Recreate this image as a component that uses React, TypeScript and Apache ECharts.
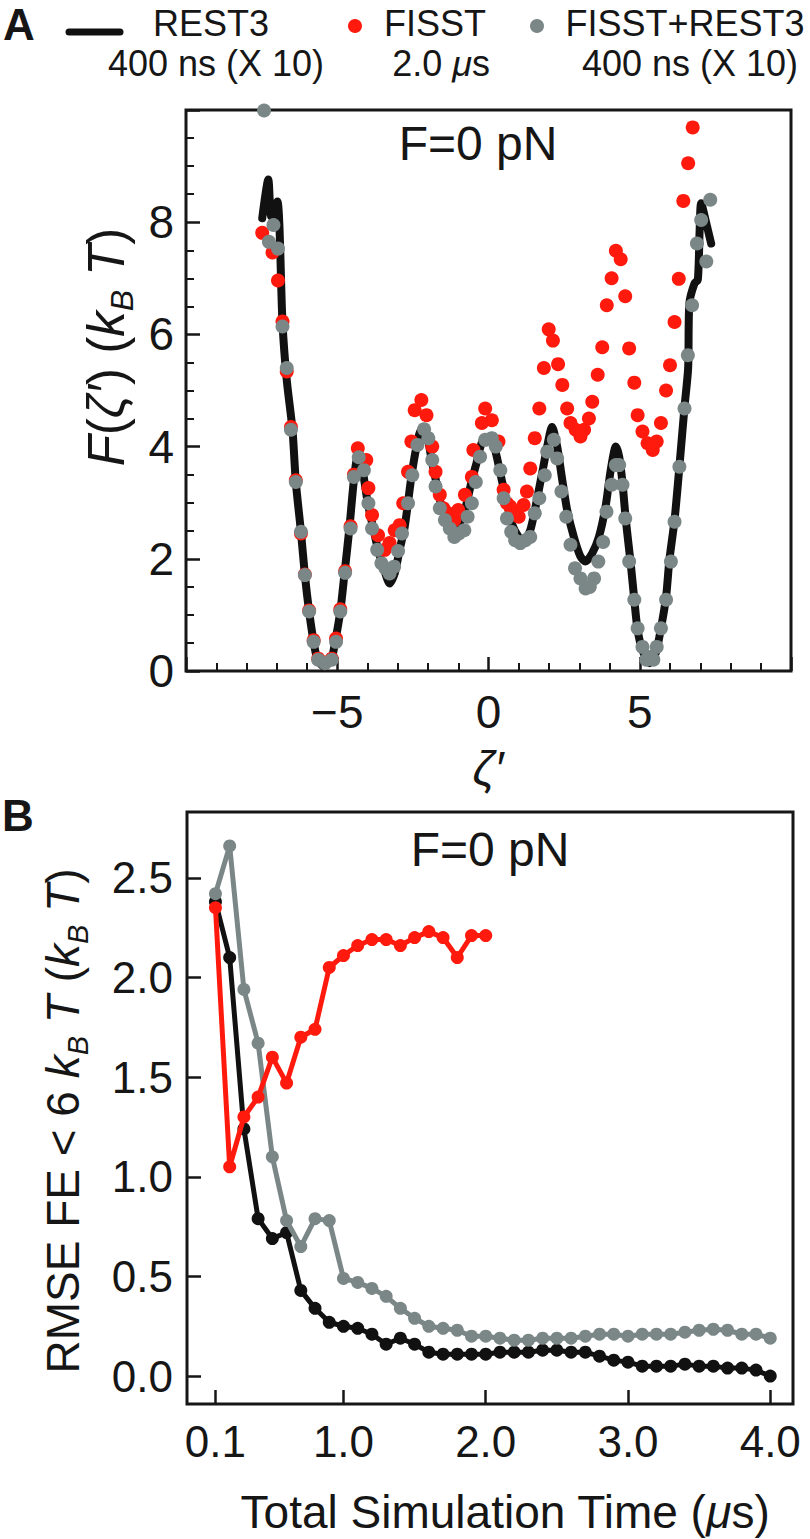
import React, { useEffect, useRef } from "react";
import * as echarts from "echarts";

// ---------- Panel A : free energy profile ----------
const restA: number[][] = [
  [-7.48, 8.07], [-7.28, 8.76], [-7.18, 8.1], [-6.98, 8.37], [-6.81, 6.2], [-6.67, 5.19],
  [-6.48, 4.3], [-6.37, 3.37], [-6.2, 2.48], [-6.07, 1.71], [-5.93, 1.06], [-5.78, 0.52],
  [-5.65, 0.2], [-5.43, 0.08], [-5.2, 0.2], [-5.07, 0.52], [-4.9, 1.06], [-4.76, 1.74],
  [-4.6, 2.54], [-4.45, 3.4], [-4.32, 3.82], [-4.21, 3.73], [-3.99, 2.99], [-3.82, 2.57],
  [-3.65, 2.16], [-3.43, 1.77], [-3.27, 1.56], [-3.1, 1.74], [-2.94, 2.16], [-2.77, 2.57],
  [-2.55, 3.46], [-2.38, 4.0], [-2.22, 4.3], [-2.05, 4.24], [-1.88, 3.76], [-1.72, 3.35],
  [-1.55, 2.93], [-1.33, 2.69], [-1.16, 2.45], [-1.0, 2.57], [-0.78, 2.87], [-0.55, 3.4],
  [-0.4, 3.7], [-0.2, 4.1], [0.05, 4.18], [0.22, 3.94], [0.44, 3.4], [0.61, 2.99],
  [0.77, 2.63], [1.0, 2.39], [1.16, 2.33], [1.38, 2.51], [1.6, 3.05], [1.77, 3.52],
  [1.94, 4.0], [2.1, 4.35], [2.27, 4.0], [2.44, 3.4], [2.6, 2.87], [2.82, 2.39],
  [3.04, 2.04], [3.21, 1.95], [3.43, 2.1], [3.65, 2.39], [3.87, 2.93], [4.04, 3.58],
  [4.21, 4.0], [4.32, 3.82], [4.43, 3.35], [4.54, 2.69], [4.7, 1.92], [4.82, 1.27],
  [4.93, 0.73], [5.09, 0.37], [5.32, 0.14], [5.53, 0.32], [5.7, 0.76], [5.87, 1.32],
  [5.98, 1.98], [6.15, 2.69], [6.31, 3.64], [6.48, 4.71], [6.6, 5.4], [6.64, 6.55],
  [6.81, 6.91], [6.92, 6.97], [6.98, 7.86], [7.03, 8.34], [7.2, 7.98], [7.36, 7.62],
];

const fisstA: number[][] = [
  [-7.48, 7.81], [-7.14, 7.46], [-6.96, 6.96], [-6.81, 6.23], [-6.67, 5.34], [-6.53, 4.35],
  [-6.37, 3.4], [-6.2, 2.45], [-6.07, 1.72], [-5.93, 1.08], [-5.78, 0.55], [-5.63, 0.22],
  [-5.41, 0.15], [-5.18, 0.22], [-5.04, 0.58], [-4.9, 1.1], [-4.74, 1.78], [-4.56, 2.58],
  [-4.45, 3.5], [-4.32, 3.97], [-4.04, 3.76], [-3.97, 3.26], [-3.85, 2.78], [-3.65, 2.42],
  [-3.43, 2.16], [-3.27, 2.28], [-3.1, 2.51], [-2.94, 2.6], [-2.82, 2.99], [-2.66, 3.55],
  [-2.55, 4.09], [-2.44, 4.65], [-2.22, 4.83], [-2.05, 4.56], [-1.86, 4.0], [-1.75, 3.55],
  [-1.61, 3.14], [-1.49, 2.9], [-1.33, 2.81], [-1.13, 2.69], [-1.0, 2.87], [-0.78, 3.14],
  [-0.55, 3.46], [-0.5, 3.94], [-0.22, 4.42], [-0.11, 4.68], [0.11, 4.47], [0.33, 4.09],
  [0.5, 3.23], [0.61, 2.99], [0.72, 2.93], [0.88, 2.81], [1.0, 2.75], [1.16, 2.96],
  [1.27, 3.2], [1.38, 3.61], [1.53, 4.15], [1.68, 4.68], [1.83, 5.4], [1.99, 6.09],
  [2.13, 5.89], [2.3, 5.47], [2.44, 5.1], [2.6, 4.68], [2.71, 4.42], [2.88, 4.3],
  [3.04, 4.18], [3.16, 4.3], [3.32, 4.5], [3.43, 4.8], [3.61, 5.28], [3.76, 5.77],
  [3.91, 6.52], [4.07, 7.0], [4.21, 7.49], [4.37, 7.34], [4.52, 6.68], [4.65, 5.75],
  [4.82, 5.14], [4.93, 4.56], [5.09, 4.27], [5.26, 4.06], [5.43, 3.94], [5.56, 4.09],
  [5.7, 4.42], [5.87, 5.0], [6.0, 5.45], [6.15, 6.22], [6.29, 6.99], [6.44, 8.38],
  [6.6, 9.05], [6.75, 9.69],
];

const comboA: number[][] = [
  [-7.42, 9.99], [-7.26, 7.65], [-7.11, 7.95], [-6.96, 7.53], [-6.81, 6.14], [-6.67, 5.4],
  [-6.53, 4.3], [-6.37, 3.37], [-6.2, 2.48], [-6.07, 1.71], [-5.93, 1.06], [-5.78, 0.52],
  [-5.63, 0.2], [-5.41, 0.14], [-5.18, 0.2], [-5.04, 0.52], [-4.9, 1.06], [-4.74, 1.75],
  [-4.56, 2.54], [-4.45, 3.46], [-4.29, 3.81], [-4.12, 3.58], [-3.97, 2.99], [-3.85, 2.54],
  [-3.68, 2.16], [-3.54, 1.92], [-3.41, 1.83], [-3.27, 1.74], [-3.12, 1.86], [-2.99, 2.14],
  [-2.86, 2.45], [-2.66, 2.99], [-2.52, 3.49], [-2.35, 4.03], [-2.13, 4.31], [-1.99, 4.15],
  [-1.86, 3.76], [-1.75, 3.29], [-1.61, 2.9], [-1.44, 2.69], [-1.28, 2.54], [-1.13, 2.39],
  [-0.98, 2.45], [-0.8, 2.51], [-0.69, 2.75], [-0.55, 2.99], [-0.42, 3.37], [-0.28, 3.82],
  [-0.11, 4.12], [0.11, 4.15], [0.24, 4.0], [0.39, 3.58], [0.5, 3.08], [0.61, 2.72],
  [0.75, 2.48], [0.88, 2.33], [1.05, 2.28], [1.22, 2.33], [1.38, 2.39], [1.53, 2.81],
  [1.68, 3.08], [1.86, 3.49], [1.94, 3.91], [2.16, 4.12], [2.27, 3.79], [2.41, 3.2],
  [2.57, 2.75], [2.71, 2.25], [2.86, 1.83], [3.04, 1.65], [3.21, 1.47], [3.35, 1.5],
  [3.49, 1.65], [3.63, 1.95], [3.79, 2.3], [3.9, 2.84], [4.07, 3.32], [4.21, 3.67],
  [4.32, 3.67], [4.43, 3.32], [4.52, 2.72], [4.65, 1.95], [4.82, 1.27], [4.93, 0.76],
  [5.09, 0.43], [5.22, 0.2], [5.32, 0.25], [5.45, 0.2], [5.56, 0.43], [5.7, 0.76],
  [5.87, 1.27], [6.03, 1.95], [6.15, 2.66], [6.31, 3.64], [6.48, 4.68], [6.59, 5.63],
  [6.73, 6.52], [6.89, 7.62], [7.03, 8.04], [7.2, 7.3], [7.33, 8.4],
];

// ---------- Panel B : RMSE vs total simulation time ----------
const timeRest = [
  0.1, 0.2, 0.3, 0.4, 0.5, 0.6, 0.7, 0.8, 0.9, 1.0, 1.1, 1.2, 1.3, 1.4, 1.5, 1.6, 1.7, 1.8, 1.9, 2.0,
  2.1, 2.2, 2.3, 2.4, 2.5, 2.6, 2.7, 2.8, 2.9, 3.0, 3.1, 3.2, 3.3, 3.4, 3.5, 3.6, 3.7, 3.8, 3.9, 4.0,
];
const rmseRest = [
  2.38, 2.10, 1.24, 0.79, 0.69, 0.72, 0.43, 0.34, 0.27, 0.25, 0.24, 0.21, 0.16, 0.19, 0.16, 0.12, 0.11, 0.11, 0.11, 0.11,
  0.12, 0.12, 0.12, 0.13, 0.13, 0.12, 0.12, 0.10, 0.08, 0.07, 0.05, 0.05, 0.05, 0.06, 0.05, 0.05, 0.04, 0.04, 0.03, 0.0,
];
const rmseCombo = [
  2.42, 2.66, 1.94, 1.67, 1.10, 0.78, 0.65, 0.79, 0.78, 0.49, 0.47, 0.44, 0.40, 0.34, 0.29, 0.25, 0.24, 0.23, 0.20, 0.20,
  0.19, 0.18, 0.18, 0.19, 0.19, 0.19, 0.20, 0.21, 0.21, 0.20, 0.21, 0.21, 0.21, 0.22, 0.23, 0.235, 0.23, 0.21, 0.21, 0.19,
];
const timeFisst = [
  0.1, 0.2, 0.3, 0.4, 0.5, 0.6, 0.7, 0.8, 0.9, 1.0, 1.1, 1.2, 1.3, 1.4, 1.5, 1.6, 1.7, 1.8, 1.9, 2.0,
];
const rmseFisst = [
  2.35, 1.05, 1.30, 1.40, 1.60, 1.47, 1.70, 1.74, 2.05, 2.11, 2.16, 2.19, 2.19, 2.16, 2.20, 2.23, 2.20, 2.10, 2.21, 2.21,
];

const xTicksB = [0.1, 1.0, 2.0, 3.0, 4.0];
const yTicksB = [0.0, 0.5, 1.0, 1.5, 2.0, 2.5];

const FF = "'Liberation Sans', Arial, Helvetica, sans-serif";
const INK = "#161616";
const RED = "#ff1a0d";
const GREY = "#7b8787";
const BLACK = "#111111";

const zip = (a: number[], b: number[]) => a.map((v, i) => [v, b[i]]);

function richStyles(fs: number) {
  const lh = fs + 12;
  return {
    n: { fontSize: fs, fontFamily: FF, fill: INK, lineHeight: lh },
    i: { fontSize: fs, fontFamily: FF, fontStyle: "italic", fill: INK, lineHeight: lh },
    s: { fontSize: Math.round(fs * 0.62), fontFamily: FF, fontStyle: "italic", fill: INK, verticalAlign: "bottom" },
  };
}

const center = { align: "center", verticalAlign: "middle", textAlign: "center", textVerticalAlign: "middle" };

export default function App() {
  const ref = useRef<HTMLDivElement>(null);
  useEffect(() => {
    document.body.style.margin = "0";
    const chart = echarts.init(ref.current!, null, { renderer: "svg" });
    const tickStyle = { color: INK, width: 2.5 };
    const option: any = {
      animation: false,
      backgroundColor: "#ffffff",
      grid: [
        { left: 186, top: 110, width: 605, height: 561, show: true, borderColor: INK, borderWidth: 3, backgroundColor: "transparent" },
        { left: 187, top: 812, width: 606, height: 592, show: true, borderColor: INK, borderWidth: 3, backgroundColor: "transparent" },
      ],
      xAxis: [
        {
          type: "value", gridIndex: 0, min: -10, max: 10, interval: 5, position: "bottom",
          axisLine: { show: false, onZero: false },
          axisTick: { show: true, inside: true, length: 14, lineStyle: tickStyle },
          minorTick: { show: true, splitNumber: 5, length: 8, lineStyle: { color: INK, width: 2 } },
          splitLine: { show: false }, minorSplitLine: { show: false },
          axisLabel: {
            showMinLabel: false, showMaxLabel: false, margin: 18, fontSize: 46, fontFamily: FF, color: INK,
            formatter: (v: number) => (v < 0 ? "\u2212" + Math.abs(v) : String(v)),
          },
        },
        {
          type: "value", gridIndex: 1, min: -0.1, max: 4.16, position: "bottom",
          axisLine: { show: false, onZero: false },
          axisTick: { show: true, inside: true, length: 14, lineStyle: tickStyle, customValues: xTicksB },
          splitLine: { show: false },
          axisLabel: { customValues: xTicksB, margin: 15, fontSize: 44, fontFamily: FF, color: INK, formatter: (v: number) => v.toFixed(1) },
        },
      ],
      yAxis: [
        {
          type: "value", gridIndex: 0, min: 0, max: 10, interval: 2, position: "left",
          axisLine: { show: false, onZero: false },
          axisTick: { show: true, inside: true, length: 14, lineStyle: tickStyle },
          minorTick: { show: true, splitNumber: 4, length: 8, lineStyle: { color: INK, width: 2 } },
          splitLine: { show: false }, minorSplitLine: { show: false },
          axisLabel: { showMaxLabel: false, margin: 12, fontSize: 46, fontFamily: FF, color: INK },
        },
        {
          type: "value", gridIndex: 1, min: -0.14, max: 2.83, position: "left",
          axisLine: { show: false, onZero: false },
          axisTick: { show: true, inside: true, length: 14, lineStyle: tickStyle, customValues: yTicksB },
          splitLine: { show: false },
          axisLabel: { customValues: yTicksB, margin: 14, fontSize: 44, fontFamily: FF, color: INK, formatter: (v: number) => v.toFixed(1) },
        },
      ],
      series: [
        {
          name: "REST3", type: "line", xAxisIndex: 0, yAxisIndex: 0, data: restA, showSymbol: false,
          smooth: 0.25, lineStyle: { color: BLACK, width: 8, join: "round", cap: "round" }, z: 2,
        },
        {
          name: "FISST", type: "scatter", xAxisIndex: 0, yAxisIndex: 0, data: fisstA, symbolSize: 14,
          itemStyle: { color: RED, opacity: 1 }, z: 3,
        },
        {
          name: "FISST+REST3", type: "scatter", xAxisIndex: 0, yAxisIndex: 0, data: comboA, symbolSize: 14,
          itemStyle: { color: GREY, opacity: 1 }, z: 4,
        },
        {
          name: "REST3 B", type: "line", xAxisIndex: 1, yAxisIndex: 1, data: zip(timeRest, rmseRest),
          symbol: "circle", symbolSize: 13, showSymbol: true,
          lineStyle: { color: BLACK, width: 5 }, itemStyle: { color: BLACK }, z: 2,
        },
        {
          name: "FISST+REST3 B", type: "line", xAxisIndex: 1, yAxisIndex: 1, data: zip(timeRest, rmseCombo),
          symbol: "circle", symbolSize: 13, showSymbol: true,
          lineStyle: { color: GREY, width: 5 }, itemStyle: { color: GREY }, z: 3,
        },
        {
          name: "FISST B", type: "line", xAxisIndex: 1, yAxisIndex: 1, data: zip(timeFisst, rmseFisst),
          symbol: "circle", symbolSize: 13, showSymbol: true,
          lineStyle: { color: RED, width: 5 }, itemStyle: { color: RED }, z: 4,
        },
      ],
      graphic: [
        { type: "text", x: 19, y: 24, style: { text: "A", fontSize: 44, fontWeight: "bold", fontFamily: FF, fill: INK, ...center } },
        { type: "text", x: 18, y: 815, style: { text: "B", fontSize: 44, fontWeight: "bold", fontFamily: FF, fill: INK, ...center } },
        // legend
        { type: "line", shape: { x1: 69, y1: 32, x2: 120, y2: 32 }, style: { stroke: BLACK, lineWidth: 7, lineCap: "round" } },
        { type: "text", x: 211, y: 23, style: { text: "REST3", fontSize: 36, fontFamily: FF, fill: INK, ...center } },
        { type: "text", x: 216, y: 63, style: { text: "400 ns (X 10)", fontSize: 36, fontFamily: FF, fill: INK, ...center } },
        { type: "circle", shape: { cx: 355, cy: 26, r: 7 }, style: { fill: RED } },
        { type: "text", x: 435, y: 23, style: { text: "FISST", fontSize: 36, fontFamily: FF, fill: INK, ...center } },
        {
          type: "text", x: 441, y: 63,
          style: { text: "{n|2.0 }{i|\u03bc}{n|s}", rich: richStyles(36), fontSize: 36, fontFamily: FF, fill: INK, ...center },
        },
        { type: "circle", shape: { cx: 537, cy: 26, r: 7 }, style: { fill: GREY } },
        { type: "text", x: 685, y: 23, style: { text: "FISST+REST3", fontSize: 36, fontFamily: FF, fill: INK, ...center } },
        { type: "text", x: 690, y: 63, style: { text: "400 ns (X 10)", fontSize: 36, fontFamily: FF, fill: INK, ...center } },
        // annotations
        { type: "text", x: 478, y: 143, style: { text: "F=0 pN", fontSize: 48, fontFamily: FF, fill: INK, ...center } },
        { type: "text", x: 490, y: 849, style: { text: "F=0 pN", fontSize: 48, fontFamily: FF, fill: INK, ...center } },
        // axis titles
        { type: "text", x: 488, y: 768, style: { text: "\u03b6\u2032", fontSize: 48, fontStyle: "italic", fontFamily: FF, fill: INK, ...center } },
        {
          type: "text", x: 505, y: 1512,
          style: { text: "{n|Total Simulation Time (}{i|\u03bc}{n|s)}", rich: richStyles(46), fontSize: 46, fontFamily: FF, fill: INK, ...center },
        },
        {
          type: "text", x: 106, y: 347, rotation: Math.PI / 2,
          style: { text: "{i|F}{n|(}{i|\u03b6\u2032}{n|) (}{i|k}{s|B}{i| T}{n|)}", rich: richStyles(51), fontSize: 51, fontFamily: FF, fill: INK, ...center },
        },
        {
          type: "text", x: 63, y: 1121, rotation: Math.PI / 2,
          style: { text: "{n|RMSE FE < 6 }{i|k}{s|B}{i| T}{n| (}{i|k}{s|B}{i| T}{n|)}", rich: richStyles(46), fontSize: 46, fontFamily: FF, fill: INK, ...center },
        },
      ],
    };
    chart.setOption(option);
    return () => chart.dispose();
  }, []);
  return <div ref={ref} style={{ position: "absolute", left: 0, top: 0, width: 810, height: 1539 }} />;
}
